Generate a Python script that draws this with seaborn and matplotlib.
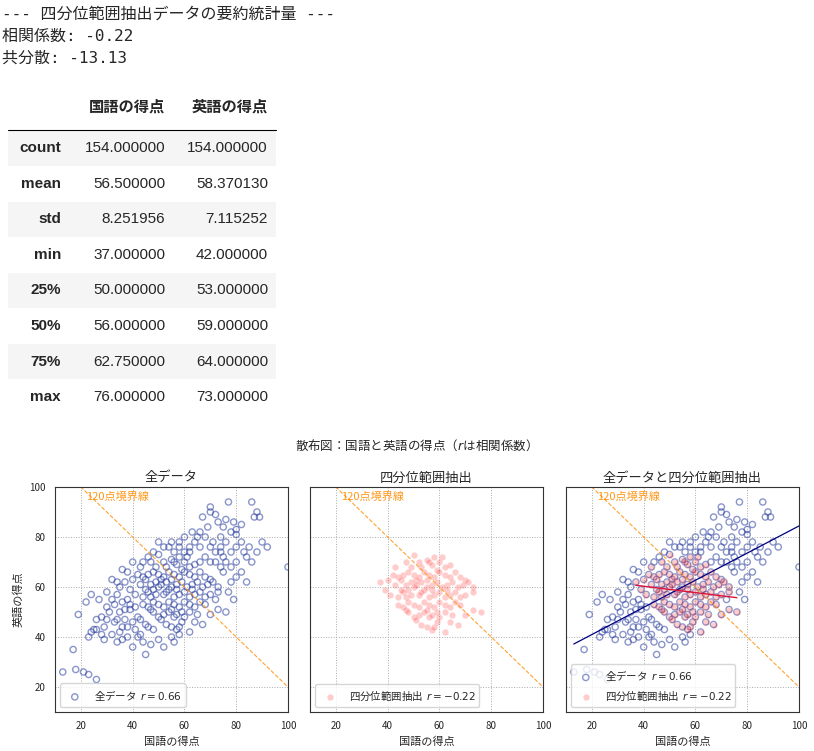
import numpy as np
import pandas as pd
import matplotlib
matplotlib.use("Agg")
import matplotlib.pyplot as plt
import seaborn as sns
from matplotlib.patches import Rectangle

sns.set_style("white")
plt.rcParams['font.family'] = ['Noto Sans CJK JP', 'DejaVu Sans']
plt.rcParams['axes.unicode_minus'] = False

# ---- data ----
sub_kokugo = [50,55,58,61,52,56, 47,43,49,53,57,59,62,64,60,
              40,42,44,46,48,50,52,54,56,58,60,62,64,66,68,70,45,51,55,
              37,39,43,47,49,50,51,53,55,57,59,61,63,65,67,69,71,73,48,54,
              41,44,46,47,49,52,53,56,58,60,62,64,66,68,70,73,45,57,63,
              44,46,48,50,52,54,56,58,60,62,64,66,68,73,47,55,
              48,50,52,54,56,57,60,62,65,70,76,59,
              51,55,57,59,62,64,67,53,58]
sub_eigo = [73,71,72,72,70,70, 70,68,68,68,69,67,68,69,70,
            63,65,64,65,66,65,64,66,65,64,66,65,64,66,64,63,63,63,63,
            62,59,61,61,62,60,61,62,60,61,62,60,61,62,60,61,62,60,59,59,
            57,56,58,56,57,57,58,56,57,58,56,57,58,56,57,58,59,59,59,
            53,52,54,53,52,54,53,52,54,53,52,54,53,51,51,51,
            50,48,49,50,48,49,48,50,49,49,50,50,
            47,44,43,46,42,46,45,45,44]
out_kokugo = [13,17,18,21,23,26,19,22,24,23,24,25,26,26,28,30,29,31,32,33,33,34,35,35,36,36,27,30,
              29,32,34,35,36,37,38,39,40,38,41,42,43,44,45,40,42,45,47,48,50,52,55,56,58,38,34,30,28,37,39,41,43,46,
              77,86,88,87,89,90,92,100,80,82,80,70,72,76,79,75,78,74,73,69,66,68,71,76,80,83,84,82,85,78,
              74,72,70,66,64,62,60,58,56,54,50,48,46,44,40,38,36,34,32,65,63,67,70,80,82,84,78,75,76,74,
              72,78,80,77,79,72,75,68,66,70,62,58,52,55,60,74,86,88]
out_eigo = [26,35,27,26,25,23,49,54,57,40,42,43,47,43,48,52,44,50,55,46,53,57,60,50,44,54,55,58,
            39,41,38,42,39,47,44,51,46,55,43,48,41,38,45,36,40,33,37,43,39,36,40,38,41,40,47,47,41,51,53,52,47,44,
            94,94,90,88,88,78,76,68,81,85,83,90,89,87,86,84,82,80,86,84,82,80,78,78,76,74,72,78,76,74,
            76,74,76,76,78,76,74,76,74,76,78,74,72,70,70,66,67,62,63,80,82,88,92,70,66,62,62,66,70,68,
            70,68,64,58,55,55,72,72,70,70,74,78,76,78,80,74,70,74]
all_kokugo = sub_kokugo + out_kokugo
all_eigo = sub_eigo + out_eigo
r_all_label = "全データ  $r=0.66$"
r_sub_label = "四分位範囲抽出  $r=-0.22$"

stat_index = ["count", "mean", "std", "min", "25%", "50%", "75%", "max"]
stat_kokugo = ["154.000000", "56.500000", "8.251956", "37.000000", "50.000000", "56.000000", "62.750000", "76.000000"]
stat_eigo = ["154.000000", "58.370130", "7.115252", "42.000000", "53.000000", "59.000000", "64.000000", "73.000000"]
header_lines = ["--- 四分位範囲抽出データの要約統計量 ---", "相関係数: -0.22", "共分散: -13.13"]

W, H = 814, 751
fig = plt.figure(figsize=(W/100, H/100), dpi=100)

def fx(px): return px / W
def fy(py): return 1 - py / H

mono = ['DejaVu Sans Mono', 'Noto Sans CJK JP']
tabf = ['Liberation Sans', 'Noto Sans CJK JP']

for i, line in enumerate(header_lines):
    fig.text(fx(2), fy(14 + i*22), line, fontsize=11.5, va="center", ha="left", family=mono)

fig.text(fx(165), fy(107), "国語の得点", fontsize=11, fontweight="bold", ha="right", va="center")
fig.text(fx(268), fy(107), "英語の得点", fontsize=11, fontweight="bold", ha="right", va="center")
fig.add_artist(plt.Line2D([fx(8), fx(276)], [fy(130), fy(130)], color="black", lw=0.8))
for i, (idx, a, b) in enumerate(zip(stat_index, stat_kokugo, stat_eigo)):
    yc = 148 + i*35.6
    if i % 2 == 0:
        fig.add_artist(Rectangle((fx(8), fy(yc+17.5)), fx(268), 35/H, color="#f5f5f5", lw=0))
    fig.text(fx(61), fy(yc), idx, fontsize=11, fontweight="bold", ha="right", va="center", family=tabf)
    fig.text(fx(165), fy(yc), a, fontsize=11, ha="right", va="center", family=tabf)
    fig.text(fx(268), fy(yc), b, fontsize=11, ha="right", va="center", family=tabf)

fig.text(fx(413), fy(445), "散布図：国語と英語の得点（$r$は相関係数）", fontsize=9, ha="center", va="center")

df_all = pd.DataFrame({"国語の得点": all_kokugo, "英語の得点": all_eigo})
df_sub = pd.DataFrame({"国語の得点": sub_kokugo, "英語の得点": sub_eigo})

lefts = [55, 310, 566]
titles = ["全データ", "四分位範囲抽出", "全データと四分位範囲抽出"]
for k, l in enumerate(lefts):
    ax = fig.add_axes([fx(l), fy(712), 233/W, 225/H])
    ax.set_xlim(10, 100); ax.set_ylim(10, 100)
    ax.set_xticks([20, 40, 60, 80, 100]); ax.set_yticks([20, 40, 60, 80, 100])
    ax.grid(True, ls=":", color="#aaaaaa", lw=0.7)
    for s in ax.spines.values():
        s.set_color("#333333")
    bx = np.array([10, 100])
    ax.plot(bx, 120 - bx, ls="--", color="darkorange", lw=0.8, alpha=0.8)
    ax.text(22, 96, "120点境界線", color="darkorange", fontsize=8, va="center", alpha=0.9)
    ax.set_title(titles[k], fontsize=9.5, pad=4)
    ax.tick_params(labelsize=7, length=3)
    if k in (0, 2):
        sns.scatterplot(data=df_all, x="国語の得点", y="英語の得点", ax=ax, s=20,
                        facecolor="none", edgecolor="#2a3f9f", alpha=0.55, linewidth=1.0, label=r_all_label)
    if k in (1, 2):
        sns.scatterplot(data=df_sub, x="国語の得点", y="英語の得点", ax=ax, s=22,
                        color="red", alpha=0.2, linewidth=0.8, label=r_sub_label)
    if k == 2:
        p = np.polyfit(all_kokugo, all_eigo, 1)
        xs = np.array([min(all_kokugo), max(all_kokugo)])
        ax.plot(xs, np.polyval(p, xs), color="navy", lw=0.9)
        q = np.polyfit(sub_kokugo, sub_eigo, 1)
        xs2 = np.array([min(sub_kokugo), max(sub_kokugo)])
        ax.plot(xs2, np.polyval(q, xs2), color="crimson", lw=1.0)
    ax.set_xlabel("国語の得点", fontsize=8)
    if k == 0:
        ax.set_ylabel("英語の得点", fontsize=8)
    else:
        ax.set_ylabel("")
        ax.set_yticklabels([])
    ax.legend(loc="lower left", fontsize=7.5, framealpha=0.8)

fig.savefig("out.png", dpi=100)
